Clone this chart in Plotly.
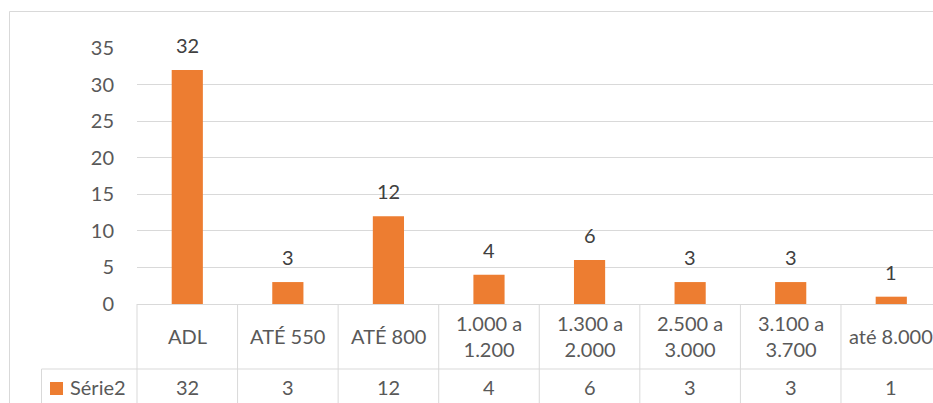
import plotly.graph_objects as go

# Data
categories = ["ADL", "ATÉ 550", "ATÉ 800", "1.000 a<br>1.200", "1.300 a<br>2.000",
              "2.500 a<br>3.000", "3.100 a<br>3.700", "até 8.000"]
series_name = "Série2"
values = [32, 3, 12, 4, 6, 3, 3, 1]
y_ticks = [0, 5, 10, 15, 20, 25, 30, 35]

# Layout constants (pixels)
W, H = 933, 403
PL, PT, PW, PH = 137, 48, 796, 256
XMIN, XMAX = -0.5, 7.415
ROW1_BOTTOM = 369
GRID = "#d9d9d9"
TXT = "#595959"
BAR = "#ED7D31"
FONT = "Lato"
FS = 20


def paper_x(px):
    return (px - PL) / PW


def paper_y(py):
    return (PT + PH - py) / PH


def bound_px(edge):
    return PL + (edge - XMIN) / (XMAX - XMIN) * PW


xs = list(range(len(categories)))

fig = go.Figure(go.Bar(
    x=xs, y=values, marker=dict(color=BAR, line=dict(width=0)),
    width=0.31, hoverinfo="skip", showlegend=False,
))

shapes = []
line = dict(color=GRID, width=1)

# outer chart border (left and top)
shapes.append(dict(type="line", xref="paper", yref="paper",
                   x0=paper_x(9.5), x1=paper_x(940), y0=paper_y(11.5), y1=paper_y(11.5), line=line))
shapes.append(dict(type="line", xref="paper", yref="paper",
                   x0=paper_x(9.5), x1=paper_x(9.5), y0=paper_y(11.5), y1=paper_y(410), line=line))

# data table grid
shapes.append(dict(type="line", xref="paper", yref="paper",
                   x0=paper_x(41.5), x1=paper_x(940), y0=paper_y(ROW1_BOTTOM), y1=paper_y(ROW1_BOTTOM), line=line))
shapes.append(dict(type="line", xref="paper", yref="paper",
                   x0=paper_x(41.5), x1=paper_x(41.5), y0=paper_y(ROW1_BOTTOM), y1=paper_y(410), line=line))
for i in range(len(categories)):
    bx = bound_px(i - 0.5)
    shapes.append(dict(type="line", xref="paper", yref="paper",
                       x0=paper_x(bx), x1=paper_x(bx), y0=paper_y(PT + PH), y1=paper_y(410), line=line))

# legend key in the table
shapes.append(dict(type="rect", xref="paper", yref="paper",
                   x0=paper_x(50), x1=paper_x(63), y0=paper_y(382), y1=paper_y(395),
                   fillcolor=BAR, line=dict(width=0)))

annotations = []
for x, c, v in zip(xs, categories, values):
    # value label above bar
    annotations.append(dict(x=x, y=v, xref="x", yref="y", text=str(v), showarrow=False,
                            yanchor="middle", yshift=25, font=dict(family=FONT, size=FS, color="#404040")))
    # category cell
    annotations.append(dict(x=x, y=paper_y(336), xref="x", yref="paper", text=c, showarrow=False,
                            yanchor="middle", font=dict(family=FONT, size=FS, color=TXT)))
    # value cell
    annotations.append(dict(x=x, y=paper_y(387), xref="x", yref="paper", text=str(v), showarrow=False,
                            yanchor="middle", font=dict(family=FONT, size=FS, color=TXT)))

annotations.append(dict(x=paper_x(68), y=paper_y(387), xref="paper", yref="paper", text=series_name,
                        showarrow=False, xanchor="left", yanchor="middle",
                        font=dict(family=FONT, size=FS, color=TXT)))

fig.update_layout(
    width=W, height=H,
    margin=dict(l=PL, r=W - PL - PW, t=PT, b=H - PT - PH, pad=0),
    paper_bgcolor="white", plot_bgcolor="white",
    font=dict(family=FONT, size=FS, color=TXT),
    xaxis=dict(range=[XMIN, XMAX], showticklabels=False, showgrid=False, zeroline=False,
               showline=True, linecolor=GRID, linewidth=1, ticks=""),
    yaxis=dict(range=[0, 35], tickvals=y_ticks, showgrid=True, gridcolor=GRID, gridwidth=1,
               zeroline=False, showline=False, ticks="", ticklabelstandoff=22,
               tickfont=dict(family=FONT, size=FS, color=TXT)),
    shapes=shapes, annotations=annotations,
    bargap=0.69,
)

fig.write_html("out.html")
